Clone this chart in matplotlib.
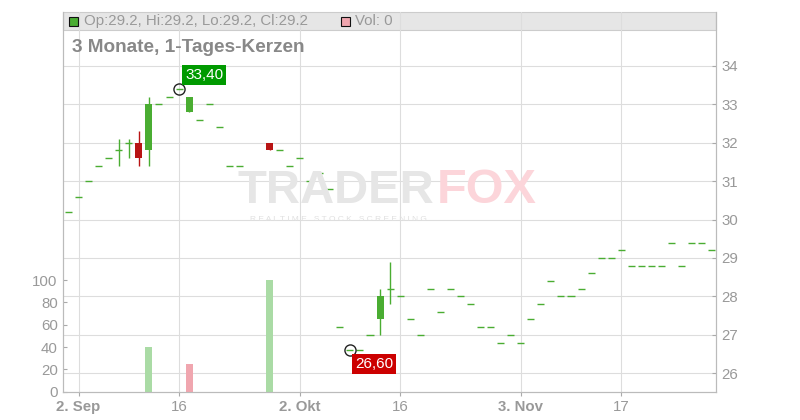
import numpy as np
import pandas as pd
import matplotlib
matplotlib.use('Agg')
import matplotlib.pyplot as plt
from matplotlib.patches import Rectangle

plt.rcParams['font.family'] = ['Liberation Sans', 'DejaVu Sans']

# Tageskerzen, Handelstage ab 1. Sep
tage = pd.bdate_range('2025-09-01', periods=65)

eroeffnung = [30.2, 30.6, 31.0, 31.4, 31.6, 31.8, 32.0, 32.0, 31.8, 33.0, 33.2, 33.4, 32.8, 32.6, 33.0, 32.4,
              31.4, 31.4, 31.2, 31.2, 32.0, 31.8, 31.4, 31.6, 31.0, 31.2, 30.8, 27.2, 26.6, 26.6, 27.0, 27.4,
              28.2, 28.0, 27.4, 27.0, 28.2, 27.6, 28.2, 28.0, 27.8, 27.2, 27.2, 26.8, 27.0, 26.8, 27.4, 27.8,
              28.4, 28.0, 28.0, 28.2, 28.6, 29.0, 29.0, 29.2, 28.8, 28.8, 28.8, 28.8, 29.4, 28.8, 29.4, 29.4, 29.2]
hoch = [30.2, 30.6, 31.0, 31.4, 31.6, 32.1, 32.1, 32.3, 33.2, 33.0, 33.2, 33.4, 33.2, 32.6, 33.0, 32.4,
        31.4, 31.4, 31.2, 31.2, 32.0, 31.8, 31.4, 31.6, 31.0, 31.2, 30.8, 27.2, 26.6, 26.6, 27.0, 28.2,
        28.9, 28.0, 27.4, 27.0, 28.2, 27.6, 28.2, 28.0, 27.8, 27.2, 27.2, 26.8, 27.0, 26.8, 27.4, 27.8,
        28.4, 28.0, 28.0, 28.2, 28.6, 29.0, 29.0, 29.2, 28.8, 28.8, 28.8, 28.8, 29.4, 28.8, 29.4, 29.4, 29.2]
tief = [30.2, 30.6, 31.0, 31.4, 31.6, 31.4, 31.6, 31.4, 31.4, 33.0, 33.2, 33.4, 32.8, 32.6, 33.0, 32.4,
        31.4, 31.4, 31.2, 31.2, 31.8, 31.8, 31.4, 31.6, 31.0, 31.2, 30.8, 27.2, 26.6, 26.6, 27.0, 27.0,
        27.8, 28.0, 27.4, 27.0, 28.2, 27.6, 28.2, 28.0, 27.8, 27.2, 27.2, 26.8, 27.0, 26.8, 27.4, 27.8,
        28.4, 28.0, 28.0, 28.2, 28.6, 29.0, 29.0, 29.2, 28.8, 28.8, 28.8, 28.8, 29.4, 28.8, 29.4, 29.4, 29.2]
schluss = [30.2, 30.6, 31.0, 31.4, 31.6, 31.8, 32.0, 31.6, 33.0, 33.0, 33.2, 33.4, 33.2, 32.6, 33.0, 32.4,
           31.4, 31.4, 31.2, 31.2, 31.8, 31.8, 31.4, 31.6, 31.0, 31.2, 30.8, 27.2, 26.6, 26.6, 27.0, 28.0,
           28.2, 28.0, 27.4, 27.0, 28.2, 27.6, 28.2, 28.0, 27.8, 27.2, 27.2, 26.8, 27.0, 26.8, 27.4, 27.8,
           28.4, 28.0, 28.0, 28.2, 28.6, 29.0, 29.0, 29.2, 28.8, 28.8, 28.8, 28.8, 29.4, 28.8, 29.4, 29.4, 29.2]
volumen = [0, 0, 0, 0, 0, 0, 0, 0, 40, 0, 0, 0, 25, 0, 0, 0,
           0, 0, 0, 0, 100, 0, 0, 0, 0, 0, 0, 0, 0, 0, 0, 0,
           0, 0, 0, 0, 0, 0, 0, 0, 0, 0, 0, 0, 0, 0, 0, 0,
           0, 0, 0, 0, 0, 0, 0, 0, 0, 0, 0, 0, 0, 0, 0, 0, 0]

kurs_ticks = [26, 27, 28, 29, 30, 31, 32, 33, 34]
vol_ticks = [0, 20, 40, 60, 80, 100]
datum_ticks = ['2025-09-02', '2025-09-16', '2025-10-02', '2025-10-16', '2025-11-03', '2025-11-17']
datum_labels = ['2. Sep', '16', '2. Okt', '16', '3. Nov', '17']
datum_fett = [True, False, True, False, True, False]

GRUEN = '#4aad32'
ROT = '#b81414'
GRAU = '#999999'

o = np.array(eroeffnung)
h = np.array(hoch)
l = np.array(tief)
c = np.array(schluss)
v = np.array(volumen)
x = np.arange(len(c))

fig = plt.figure(figsize=(8, 4.2), dpi=100)
ax = fig.add_axes([63.3 / 800, 28.3 / 420, (716 - 63.3) / 800, 380 / 420])
ax_v = ax.twinx()
ax_v.patch.set_visible(False)

# Kerzen
farbe = np.where(c >= o, GRUEN, ROT)
koerper = c != o
ax.vlines(x, l, h, colors=farbe, lw=1.0, zorder=3)
ax.bar(x[koerper], (c - o)[koerper], bottom=o[koerper], width=0.7, color=farbe[koerper], zorder=4)
ax.hlines(c[~koerper], x[~koerper] - 0.35, x[~koerper] + 0.35, colors=farbe[~koerper], lw=1.0, zorder=4)

# Volumen (Farbe nach Veränderung zum Vortag)
vorher = np.concatenate([[c[0]], c[:-1]])
vfarbe = np.where(c >= vorher, '#aadba5', '#f0a6af')
ax_v.bar(x, v, width=0.7, color=vfarbe, zorder=2)

# Hoch / Tief markieren
i_hoch = int(np.argmax(h))
i_tief = int(np.argmin(l))
ax.plot([i_hoch, i_tief], [h[i_hoch], l[i_tief]], 'o', ms=8, mfc='none', mec='#222222', mew=1.0, zorder=6)
ax.annotate(f'{h[i_hoch]:.2f}'.replace('.', ','), (i_hoch, h[i_hoch]), xytext=(25, 14),
            textcoords='offset pixels', ha='center', va='center', color='white', fontsize=11,
            bbox=dict(boxstyle='square,pad=0.2', fc='#009a00', ec='none'), zorder=7)
ax.annotate(f'{l[i_tief]:.2f}'.replace('.', ','), (i_tief, l[i_tief]), xytext=(24, -14),
            textcoords='offset pixels', ha='center', va='center', color='white', fontsize=11,
            bbox=dict(boxstyle='square,pad=0.2', fc='#cc0000', ec='none'), zorder=7)

# Achsen
ax.set_xlim(-0.52, 64.43)
ax.set_ylim(25.52, 35.41)
ax_v.set_ylim(0, 340.5)
ax.yaxis.tick_right()
ax_v.yaxis.tick_left()
ax.set_yticks(kurs_ticks)
ax_v.set_yticks(vol_ticks)
pos = [tage.get_loc(pd.Timestamp(d)) for d in datum_ticks]
ax.set_xticks(pos)
ax.set_xticklabels(datum_labels)
for lab, fett in zip(ax.get_xticklabels(), datum_fett):
    lab.set_fontweight('bold' if fett else 'normal')

ax.tick_params(axis='y', direction='in', length=3, color='#aaaaaa', labelcolor=GRAU, labelsize=10.8, pad=4)
ax_v.tick_params(axis='y', direction='in', length=3, color='#aaaaaa', labelcolor=GRAU, labelsize=10.8, pad=4)
ax.tick_params(axis='x', direction='out', length=3, color='#aaaaaa', labelcolor=GRAU, labelsize=10.8, pad=3)

ax.set_axisbelow(True)
ax.grid(True, color='#dddddd', lw=0.8)
for a in (ax, ax_v):
    a.spines['top'].set_visible(False)
    for s in ('left', 'right', 'bottom'):
        a.spines[s].set_color('#bbbbbb')

# Kopfzeile
ax.add_patch(Rectangle((0, (391.7 - 30) / 380), 1, (30 - 11.7) / 380, transform=ax.transAxes,
                       fc='#e6e6e6', ec='#cccccc', lw=0.8, zorder=0.1, clip_on=False))


def px(xp, yp):
    return xp / 800, 1 - yp / 420


fig.add_artist(Rectangle(px(69, 26), 9 / 800, 9 / 420, transform=fig.transFigure,
                         fc=GRUEN, ec='#111111', lw=0.8))
fig.text(*px(84, 21), f'Op:{o[-1]}, Hi:{h[-1]}, Lo:{l[-1]}, Cl:{c[-1]}', color=GRAU,
         fontsize=10.8, va='center', ha='left')
fig.add_artist(Rectangle(px(341, 26), 9 / 800, 9 / 420, transform=fig.transFigure,
                         fc='#f0a6af', ec='#111111', lw=0.8))
fig.text(*px(355, 21), f'Vol: {v[-1]}', color=GRAU, fontsize=10.8, va='center', ha='left')
fig.text(*px(72, 47), '3 Monate, 1-Tages-Kerzen', color='#888888', fontsize=13.7,
         fontweight='bold', va='center', ha='left')

# Wasserzeichen
fig.text(*px(237, 191), 'TRADER', color='#e6e6e6', fontsize=34, fontweight='bold',
         va='center', ha='left', zorder=0.5)
fig.text(*px(437, 191), 'FOX', color='#fcd5da', fontsize=35, fontweight='bold',
         va='center', ha='left', zorder=0.5)
fig.text(*px(250, 219), 'R E A L T I M E   S T O C K   S C R E E N I N G', color='#e0e0e0',
         fontsize=6, va='center', ha='left', zorder=0.5)

fig.savefig('out.png', dpi=100)
